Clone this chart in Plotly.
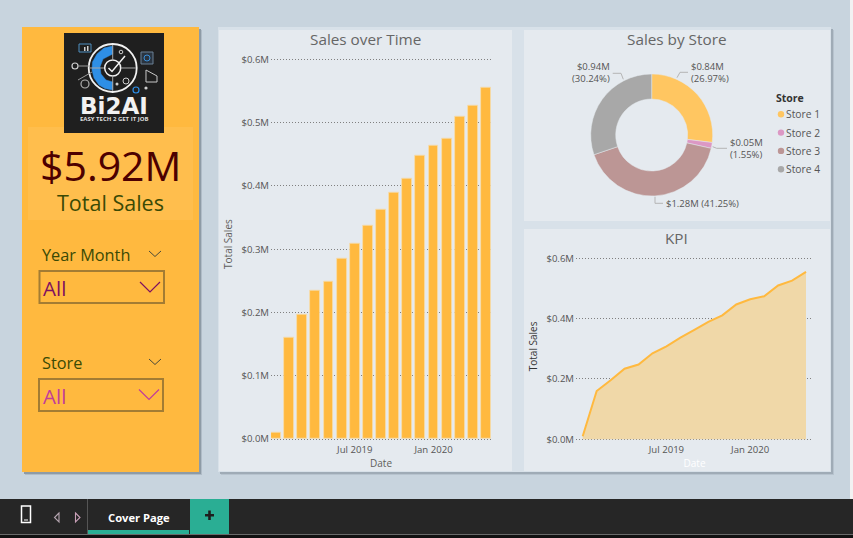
import plotly.graph_objects as go

W, H = 853, 538
FONT = "Open Sans"

# ---------- data ----------
months = ["Jan 2019", "Feb 2019", "Mar 2019", "Apr 2019", "May 2019", "Jun 2019", "Jul 2019", "Aug 2019", "Sep 2019",
          "Oct 2019", "Nov 2019", "Dec 2019", "Jan 2020", "Feb 2020", "Mar 2020", "Apr 2020", "May 2020"]
sales_m = [0.010, 0.160, 0.196, 0.234, 0.248, 0.285, 0.308, 0.337, 0.363,
           0.389, 0.411, 0.447, 0.464, 0.474, 0.510, 0.526, 0.555]
x_ticks = ["Jul 2019", "Jan 2020"]
bar_y_ticks = [0, 0.1, 0.2, 0.3, 0.4, 0.5, 0.6]
kpi_y_ticks = [0, 0.2, 0.4, 0.6]
stores = ["Store 1", "Store 2", "Store 3", "Store 4"]
store_share = [26.97, 1.55, 41.25, 30.24]
store_colors = ["#FFC661", "#DC98C4", "#BC9695", "#A8A8A8"]
label_amount = ["$0.84M", "$0.05M", "$1.28M", "$0.94M"]


def px(x): return x / W
def py(y): return 1 - y / H


shapes, ann = [], []


def rect(x0, y0, x1, y1, fill, line=None, lw=0):
    shapes.append(dict(type="rect", xref="paper", yref="paper", layer="below",
                       x0=px(x0), x1=px(x1), y0=py(y1), y1=py(y0), fillcolor=fill,
                       line=dict(color=line or fill, width=lw)))


def poly(points, color, lw=1, closed=False, fill=None):
    d = "M " + " L ".join(f"{px(a):.5f} {py(b):.5f}" for a, b in points) + (" Z" if closed else "")
    s = dict(type="path", xref="paper", yref="paper", layer="below", path=d, line=dict(color=color, width=lw))
    if fill:
        s["fillcolor"] = fill
    shapes.append(s)


def circ(cx, cy, r, fill="rgba(0,0,0,0)", line=None, lw=1):
    shapes.append(dict(type="circle", xref="paper", yref="paper", layer="below",
                       x0=px(cx - r), x1=px(cx + r), y0=py(cy + r), y1=py(cy - r),
                       fillcolor=fill, line=dict(color=line or fill, width=lw if line else 0)))


def text(x, y, s, size, color, anchor="center", bold=False, angle=0, family=FONT):
    ann.append(dict(xref="paper", yref="paper", x=px(x), y=py(y), text=f"<b>{s}</b>" if bold else s,
                    showarrow=False, xanchor=anchor, yanchor="middle", textangle=angle, align=anchor,
                    font=dict(family=family, size=size, color=color), borderpad=0, borderwidth=0))


# ---------- page chrome ----------
ORANGE = "#FFB93F"
CARD = "#E5EAEF"
# left panel with soft shadow
rect(25, 30, 202, 475, "#B0BCC7")
rect(24, 29, 201, 474, "#8E9BA6")
rect(22, 27, 199, 472, ORANGE)
rect(28, 127, 193, 220, "#FFBE4D")
# right container with soft shadow
rect(221, 30, 834, 475, "#B7C3CE")
rect(220, 29, 833, 474, "#9FABB6")
rect(218, 27, 831, 472, "#D8E1E9")
rect(219, 30, 512, 471, CARD)
rect(524, 30, 830, 221, CARD)
rect(524, 229, 830, 471, CARD)
rect(850, 0, 853, 499, "#F2F2F2")

# logo
rect(64, 33, 164, 133, "#1F1F1F")
arc = [(112.7, 46), (104, 48), (97, 54), (92.5, 62), (92, 70), (94, 78), (99, 85), (105, 88.5), (112.7, 90),
       (112.7, 82), (106, 80), (101, 74), (100, 67), (103, 59), (112.7, 54)]
poly(arc, "#2E8FE6", 0.5, True, "#2E8FE6")
circ(112.7, 68, 24, line="#F2F2F2", lw=1.8)
circ(112.7, 68, 8, line="#F2F2F2", lw=1.5)
poly([(108.5, 68), (112, 71.5), (125, 56)], "#F2F2F2", 1.5)
poly([(112.7, 45), (112.7, 60)], "#A8A8A8", 1)
poly([(112.7, 76), (112.7, 91)], "#A8A8A8", 1)
poly([(90, 68), (104, 68)], "#A8A8A8", 1)
poly([(121, 68), (136, 68)], "#A8A8A8", 1)
circ(121, 52, 1.8, line="#CFCFCF", lw=1)
circ(126, 81, 3, line="#CFCFCF", lw=1)
circ(117, 84, 1.5, fill="#CFCFCF")
rect(79, 44, 91, 52, "#1F1F1F", "#4E8FC0", 1)
rect(84, 47, 85.5, 51, "#D0D0D0")
rect(87, 46, 88.5, 51, "#D0D0D0")
rect(141, 52, 153, 64, "#2A3440", "#6A8095", 1)
circ(147, 58, 3, line="#3A8FD8", lw=1)
poly([(146, 70), (146, 82), (157, 82), (157, 76), (146, 70)], "#C8C8C8", 1)
circ(75, 66, 3, line="#CFCFCF", lw=1.2)
circ(85, 84, 4, line="#AFAFAF", lw=1.2)
circ(136, 90, 3, line="#2E8FE6", lw=1.2)
circ(146, 88, 1.6, fill="#CFCFCF")
poly([(78, 66), (90, 66)], "#9A9A9A", 1)
poly([(78, 80), (92, 72)], "#9A9A9A", 1)
text(114, 105.5, "Bi2AI", 23, "#F2F2F2", bold=True, family="DejaVu Sans")
text(114, 118.6, "EASY TECH 2 GET IT JOB", 6, "#DDDDDD", bold=True)

# KPI card
text(110.5, 164.5, "$5.92M", 41, "#4D0000")
text(110.5, 203, "Total Sales", 21.5, "#3A4A05")

# slicers
for ty, label, bx0, bx1, by0, by1, chev, col, all_y in [
    (255, "Year Month", 39.5, 164, 271, 303, (140, 160, 282, 292), "#7E1060", 288),
    (363, "Store", 39, 163, 379, 411, (139, 159, 389.5, 399.5), "#C23C9A", 396),
]:
    text(41.5, ty, label, 16.3, "#3A4A05", anchor="left")
    poly([(149, ty - 4), (155, ty + 1.5), (161, ty - 4)], "#4A4A3A", 1)
    shapes.append(dict(type="rect", xref="paper", yref="paper", layer="below", x0=px(bx0), x1=px(bx1),
                       y0=py(by1), y1=py(by0), line=dict(color="#A37C33", width=2)))
    poly([(chev[0], chev[2]), ((chev[0] + chev[1]) / 2, chev[3]), (chev[1], chev[2])], col, 1.2)
    text(42.5, all_y, "All", 20.5, col, anchor="left")

# bottom bar
rect(0, 499, W, 538, "#262626")
rect(0, 534, W, 535, "#6A6A6A")
rect(0, 535, W, 538, "#111111")
rect(87, 499, 88, 534, "#555555")
rect(88, 530, 189, 534, "#2AAE94")
rect(190, 499, 229, 534, "#2AAE94")
rect(205, 514, 214, 516.5, "#1E1E1E")
rect(208.2, 510.5, 210.8, 520, "#1E1E1E")
text(138.5, 517.5, "Cover Page", 11.2, "#FFFFFF", bold=True)
shapes.append(dict(type="rect", xref="paper", yref="paper", layer="below", x0=px(21.5), x1=px(30.5),
                   y0=py(522.5), y1=py(506), line=dict(color="#FFFFFF", width=1.5)))
rect(24, 519.5, 28, 520.5, "#FFFFFF")
poly([(59, 513), (54.5, 517.5), (59, 522)], "#B5A5B0", 1.1, True)
poly([(75.5, 513), (80, 517.5), (75.5, 522)], "#C9A0B8", 1.1, True)

# titles
text(365.5, 39.2, "Sales over Time", 15.3, "#666666")
text(676.5, 39.2, "Sales by Store", 15.3, "#666666")
text(676.5, 238.5, "KPI", 15.3, "#666666")

# ---------- donut labels ----------
AMT = "#555555"
text(691, 72, f"{label_amount[0]}<br>({store_share[0]:.2f}%)", 9.5, AMT, anchor="left")
poly([(677, 77.7), (680, 72.3), (688, 72.3)], "#B5B5B5")
text(730, 148.5, f"{label_amount[1]}<br>({store_share[1]:.2f}%)", 9.5, AMT, anchor="left")
poly([(712.7, 146.7), (716.7, 148.3), (727, 148.3)], "#B5B5B5")
text(666, 203.5, f"{label_amount[2]} ({store_share[2]:.2f}%)", 9.5, AMT, anchor="left")
poly([(655, 196.7), (655, 203.3), (663, 203.3)], "#B5B5B5")
text(610, 73, f"{label_amount[3]}<br>({store_share[3]:.2f}%)", 9.5, AMT, anchor="right")
poly([(623.3, 79.3), (621, 73.3), (612.7, 73.3)], "#B5B5B5")

# legend
text(776, 98, "Store", 10.5, "#333333", anchor="left", bold=True)
for i, (s, c) in enumerate(zip(stores, store_colors)):
    ly = 114.3 + i * 18.3
    circ(781, ly, 3.2, fill=c)
    text(786, ly, s, 10.3, AMT, anchor="left")

# ---------- traces ----------
fig = go.Figure()
fig.add_bar(x=months, y=sales_m, xaxis="x", yaxis="y", width=0.76,
            marker=dict(color=ORANGE, line=dict(color="#F5DDB0", width=0.8)))
fig.add_scatter(x=months, y=sales_m, xaxis="x2", yaxis="y2", mode="lines", fill="tozeroy",
                fillcolor="#F0D8A8", line=dict(color=ORANGE, width=2))
R, CX, CY = 61, 651.7, 135
fig.add_pie(labels=stores, values=store_share, hole=0.59, sort=False, direction="clockwise", rotation=0,
            marker=dict(colors=store_colors, line=dict(color="#E5EAEF", width=0.5)), textinfo="none",
            domain=dict(x=[px(CX - R), px(CX + R)], y=[py(CY + R), py(CY - R)]))

TICK = dict(family=FONT, size=9.6, color="#555555")


def xax(domain, rng, title_color, standoff, label_off):
    return dict(domain=[px(domain[0]), px(domain[1])], type="category", categoryorder="array", categoryarray=months,
                range=rng, tickmode="array", tickvals=x_ticks, ticktext=x_ticks, showgrid=False, zeroline=False,
                showline=False, ticks="", tickfont=TICK, automargin=False, ticklabelstandoff=label_off,
                title=dict(text="Date", font=dict(family=FONT, size=10, color=title_color), standoff=standoff))


def yax(domain, tv, title_color, standoff):
    return dict(domain=[py(domain[1]), py(domain[0])], range=[-0.004, 0.62], tickmode="array", tickvals=tv,
                ticktext=[f"${v:.1f}M" for v in tv], showgrid=True, gridcolor="#808080", griddash="1px,2px",
                gridwidth=1, zeroline=False, showline=False, ticks="", tickfont=TICK, automargin=False,
                ticklabelstandoff=1,
                title=dict(text="Total Sales", font=dict(family=FONT, size=10, color=title_color), standoff=standoff))


fig.update_layout(
    width=W, height=H, margin=dict(l=0, r=0, t=0, b=0), autosize=False,
    paper_bgcolor="#C8D4DE", plot_bgcolor="rgba(0,0,0,0)", showlegend=False, bargap=0,
    font=dict(family=FONT), shapes=shapes, annotations=ann,
    xaxis=dict(anchor="y", **xax((271, 491), [-0.38, 16.38], "#605E5C", 0, 1)),
    yaxis=dict(anchor="x", **yax((46.63, 441.53), bar_y_ticks, "#605E5C", 6)),
    xaxis2=dict(anchor="y2", **xax((576, 813), [-0.48, 16.5], "#FFFFFF", 1, 2)),
    yaxis2=dict(anchor="x2", **yax((252.27, 440.5), kpi_y_ticks, "#333333", 6)),
)

fig.write_html("out.html", config=dict(displayModeBar=False),
               post_script="document.body.style.margin='0';document.body.style.overflow='hidden';")
